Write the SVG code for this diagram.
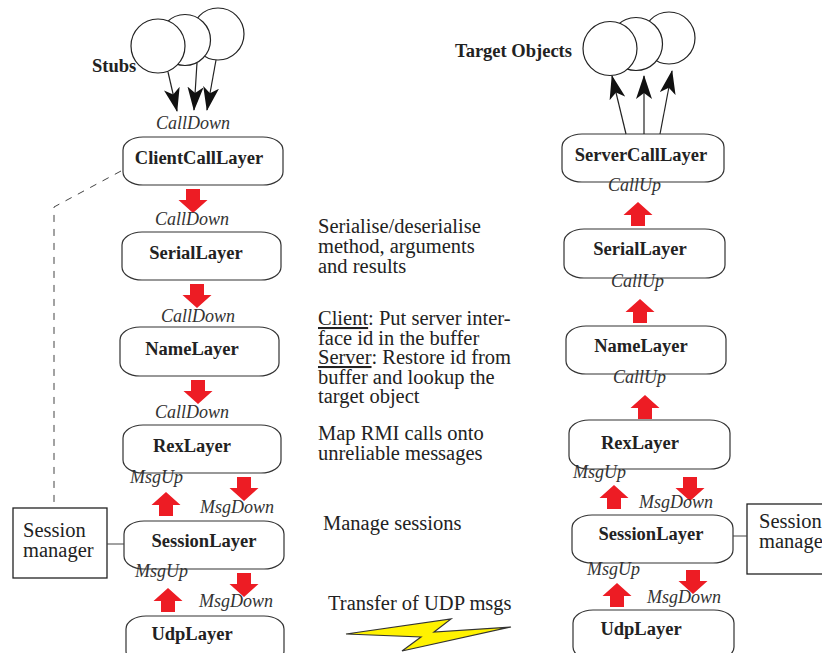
<svg xmlns="http://www.w3.org/2000/svg" width="822" height="653" viewBox="0 0 822 653">
  <defs>
    <style>
      .layer { fill: #ffffff; stroke: #333333; stroke-width: 1.2; }
      .obj { fill: #ffffff; stroke: #222222; stroke-width: 1.2; }
      .box { fill: #ffffff; stroke: #222222; stroke-width: 1.3; }
      .name { font-family: "Liberation Serif", "Times New Roman", serif; font-weight: bold; font-size: 18.5px; fill: #222222; text-anchor: middle; }
      .title { font-family: "Liberation Serif", "Times New Roman", serif; font-weight: bold; font-size: 18.5px; fill: #222222; }
      .op { font-family: "Liberation Serif", "Times New Roman", serif; font-style: italic; font-size: 18px; fill: #333333; }
      .note { font-family: "Liberation Serif", "Times New Roman", serif; font-size: 20.5px; fill: #222222; }
      .call { fill: none; stroke: #222222; stroke-width: 1.2; marker-end: url(#barb); }
      .red { fill: #ed1c24; }
      .dash { fill: none; stroke: #444444; stroke-width: 1; stroke-dasharray: 7 7; }
      .link { fill: none; stroke: #444444; stroke-width: 1; }
    </style>
    <marker id="barb" viewBox="0 0 24 16" refX="23" refY="8" markerWidth="24" markerHeight="16" markerUnits="userSpaceOnUse" orient="auto">
      <path d="M0,0 L24,8 L0,16 L6,8 Z" fill="#111111"/>
    </marker>
    <!-- block arrows, origin at the top edge / tip, centred on x=0 -->
    <path id="redDown" d="M-7,0 H7 V11 H14.5 L0,24 L-14.5,11 H-7 Z"/>
    <path id="redUp" d="M-7,24 H7 V13 H14.5 L0,0 L-14.5,13 H-7 Z"/>
  </defs>

  <rect width="822" height="653" fill="#ffffff"/>

  <!-- client side: stub objects -->
  <g id="stubs">
    <circle class="obj" cx="218" cy="34" r="26"/>
    <circle class="obj" cx="185" cy="40" r="25.5"/>
    <circle class="obj" cx="158" cy="46" r="27"/>
    <text class="title" x="92" y="72">Stubs</text>
  </g>

  <!-- server side: target objects -->
  <g id="targets">
    <circle class="obj" cx="669" cy="38" r="26"/>
    <circle class="obj" cx="636" cy="44" r="26.5"/>
    <circle class="obj" cx="610" cy="48.5" r="27"/>
    <text class="title" x="455" y="57">Target Objects</text>
  </g>

  <!-- client layer stack -->
  <g id="client-call-layer">
    <rect class="layer" x="123" y="137" width="160" height="48" rx="20" ry="13"/>
    <text class="name" x="199" y="164">ClientCallLayer</text>
  </g>
  <g id="client-serial-layer">
    <rect class="layer" x="122" y="232" width="159" height="48" rx="20" ry="13"/>
    <text class="name" x="196" y="259">SerialLayer</text>
  </g>
  <g id="client-name-layer">
    <rect class="layer" x="120" y="327" width="159" height="49" rx="20" ry="13"/>
    <text class="name" x="192" y="355">NameLayer</text>
  </g>
  <g id="client-rex-layer">
    <rect class="layer" x="123" y="425" width="158" height="48" rx="20" ry="13"/>
    <text class="name" x="192" y="452">RexLayer</text>
  </g>
  <g id="client-session-layer">
    <rect class="layer" x="124" y="521" width="160" height="48" rx="20" ry="13"/>
    <text class="name" x="204" y="547">SessionLayer</text>
  </g>
  <g id="client-udp-layer">
    <rect class="layer" x="126" y="616" width="158" height="48" rx="20" ry="13"/>
    <text class="name" x="192" y="640">UdpLayer</text>
  </g>
  <g id="client-session-manager">
    <rect class="box" x="13" y="508" width="94" height="70"/>
    <text class="note" x="23" y="537">Session</text>
    <text class="note" x="23" y="557">manager</text>
  </g>

  <!-- server layer stack -->
  <g id="server-call-layer">
    <rect class="layer" x="562" y="134" width="162" height="48" rx="20" ry="13"/>
    <text class="name" x="641" y="161">ServerCallLayer</text>
  </g>
  <g id="server-serial-layer">
    <rect class="layer" x="564" y="229" width="161" height="49" rx="20" ry="13"/>
    <text class="name" x="640" y="255">SerialLayer</text>
  </g>
  <g id="server-name-layer">
    <rect class="layer" x="566" y="326" width="160" height="48" rx="20" ry="13"/>
    <text class="name" x="641" y="352">NameLayer</text>
  </g>
  <g id="server-rex-layer">
    <rect class="layer" x="569" y="420" width="161" height="49" rx="20" ry="13"/>
    <text class="name" x="640" y="449">RexLayer</text>
  </g>
  <g id="server-session-layer">
    <rect class="layer" x="572" y="515" width="161" height="48" rx="20" ry="13"/>
    <text class="name" x="651" y="540">SessionLayer</text>
  </g>
  <g id="server-udp-layer">
    <rect class="layer" x="573" y="610" width="161" height="50" rx="20" ry="13"/>
    <text class="name" x="641" y="635">UdpLayer</text>
  </g>
  <g id="server-session-manager">
    <rect class="box" x="747" y="504" width="90" height="70"/>
    <text class="note" x="759" y="528">Session.</text>
    <text class="note" x="759" y="548">manager</text>
  </g>

  <!-- layer descriptions -->
  <g id="notes">
    <text class="note" x="318" y="233">Serialise/deserialise</text>
    <text class="note" x="318" y="253">method, arguments</text>
    <text class="note" x="318" y="273">and results</text>
    <text class="note" x="318" y="325"><tspan text-decoration="underline">Client</tspan>: Put server inter-</text>
    <text class="note" x="318" y="345">face id in the buffer</text>
    <text class="note" x="318" y="364"><tspan text-decoration="underline">Server</tspan>: Restore id from</text>
    <text class="note" x="318" y="384">buffer and lookup the</text>
    <text class="note" x="318" y="403">target object</text>
    <text class="note" x="318" y="440">Map RMI calls onto</text>
    <text class="note" x="318" y="460">unreliable messages</text>
    <text class="note" x="323" y="530">Manage sessions</text>
    <text class="note" x="328" y="610">Transfer of UDP msgs</text>
  </g>

  <!-- network link between the two UdpLayers -->
  <g id="network">
    <polygon points="346,634 451,619 434,632 511,627 402,651 421,637" fill="#fff200" stroke="#333333" stroke-width="1.2" stroke-linejoin="miter"/>
  </g>

  <g id="connectors">
    <!-- stub calls into the client stack -->
    <line class="call" x1="168" y1="72" x2="177" y2="111"/>
    <line class="call" x1="197" y1="63" x2="194" y2="110"/>
    <line class="call" x1="216" y1="60" x2="207" y2="110"/>
    <!-- server stack calls up to target objects -->
    <line class="call" x1="626" y1="134" x2="612" y2="76"/>
    <line class="call" x1="644" y1="134" x2="644" y2="76"/>
    <line class="call" x1="660" y1="134" x2="672" y2="71"/>

    <!-- session manager links -->
    <path class="dash" d="M121,171 L54,207 L54,508"/>
    <line class="link" x1="107" y1="544" x2="124" y2="544"/>
    <line class="link" x1="733" y1="536" x2="747" y2="536"/>

    <!-- client stack flow -->
    <g class="red">
      <use href="#redDown" x="193" y="189"/>
      <use href="#redDown" x="197" y="284"/>
      <use href="#redDown" x="198" y="380"/>
      <use href="#redDown" x="244" y="477"/>
      <use href="#redDown" x="244" y="573"/>
      <use href="#redUp" x="166" y="492"/>
      <use href="#redUp" x="168" y="588"/>
    </g>
    <!-- server stack flow -->
    <g class="red">
      <use href="#redUp" x="638" y="202"/>
      <use href="#redUp" x="640" y="299"/>
      <use href="#redUp" x="645" y="395"/>
      <use href="#redUp" x="614" y="485"/>
      <use href="#redUp" x="617" y="583"/>
      <use href="#redDown" x="690" y="477"/>
      <use href="#redDown" x="693" y="570"/>
    </g>

    <!-- operation labels -->
    <text class="op" x="156" y="129">CallDown</text>
    <text class="op" x="155" y="225">CallDown</text>
    <text class="op" x="161" y="322">CallDown</text>
    <text class="op" x="155" y="418">CallDown</text>
    <text class="op" x="130" y="483">MsgUp</text>
    <text class="op" x="200" y="513">MsgDown</text>
    <text class="op" x="135" y="577">MsgUp</text>
    <text class="op" x="199" y="607">MsgDown</text>

    <text class="op" x="608" y="191">CallUp</text>
    <text class="op" x="611" y="287">CallUp</text>
    <text class="op" x="613" y="383">CallUp</text>
    <text class="op" x="573" y="478">MsgUp</text>
    <text class="op" x="639" y="508">MsgDown</text>
    <text class="op" x="587" y="575">MsgUp</text>
    <text class="op" x="647" y="603">MsgDown</text>
  </g>
</svg>
